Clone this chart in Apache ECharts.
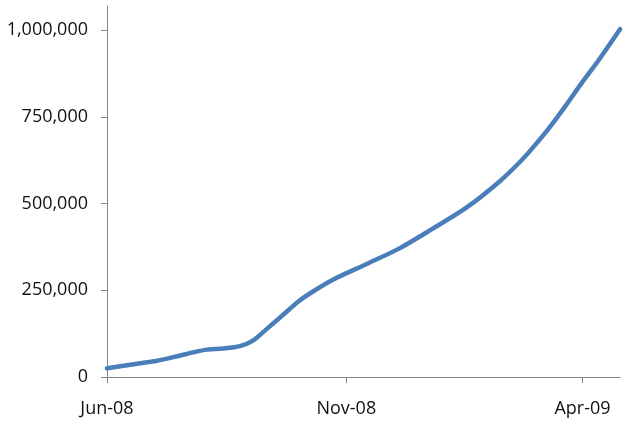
<!DOCTYPE html>
<html><head><meta charset="utf-8">
<script src="https://cdn.jsdelivr.net/npm/echarts@6/dist/echarts.min.js"></script>
<style>html,body{margin:0;padding:0;background:#fff}#c{width:630px;height:430px}</style>
</head><body><div id="c"></div>
<script>
const dates = ['2008-06-01','2008-06-18','2008-07-03','2008-07-16','2008-07-26','2008-08-04','2008-08-14','2008-08-25','2008-09-02','2008-09-11','2008-09-22','2008-10-02','2008-10-13','2008-10-24','2008-11-14','2008-12-05','2008-12-26','2009-01-17','2009-02-07','2009-02-20','2009-02-28','2009-03-11','2009-03-22','2009-04-01','2009-04-12','2009-04-25'];
const values = [25000,37000,47000,60000,71000,79000,82000,89000,104000,138000,181000,220000,253000,282000,326000,371000,427000,489000,564000,620000,660000,720000,787000,851000,918000,1003000];
const xTickDates = ['2008-06-01','2008-11-01','2009-04-01'];
const yTicks = [0,250000,500000,750000,1000000];
const months = ['Jan','Feb','Mar','Apr','May','Jun','Jul','Aug','Sep','Oct','Nov','Dec'];

const ts = s => { const p = s.split('-').map(Number); return Date.UTC(p[0], p[1]-1, p[2]); };
const chart = echarts.init(document.getElementById('c'));
const axisColor = '#868686';
const font = {fontFamily: 'Open Sans', fontSize: 18, color: '#111111'};
chart.setOption({
  animation: false,
  grid: {left: 107, right: 10, top: 6, bottom: 53, containLabel: false},
  xAxis: {
    type: 'value',
    min: ts('2008-06-01'), max: ts('2009-04-25'),
    axisLine: {lineStyle: {color: axisColor, width: 1}},
    axisTick: {show: true, length: 6, lineStyle: {color: axisColor}, customValues: xTickDates.map(ts)},
    axisLabel: Object.assign({margin: 23, customValues: xTickDates.map(ts), hideOverlap: false,
      formatter: v => { const d = new Date(v); return months[d.getUTCMonth()] + '-' + String(d.getUTCFullYear()).slice(2); }}, font),
    splitLine: {show: false}
  },
  yAxis: {
    type: 'value', min: 0, max: 1070000,
    axisLine: {show: true, lineStyle: {color: axisColor, width: 1}},
    axisTick: {show: true, length: 6, lineStyle: {color: axisColor}, customValues: yTicks},
    axisLabel: Object.assign({margin: 19, customValues: yTicks,
      formatter: v => v.toLocaleString('en-US')}, font),
    splitLine: {show: false}
  },
  series: [{
    type: 'line', smooth: 0.3, showSymbol: false,
    data: dates.map((d, i) => [ts(d), values[i]]),
    lineStyle: {color: '#4a7ebb', width: 4.5, cap: 'round'}
  }]
});
</script></body></html>
